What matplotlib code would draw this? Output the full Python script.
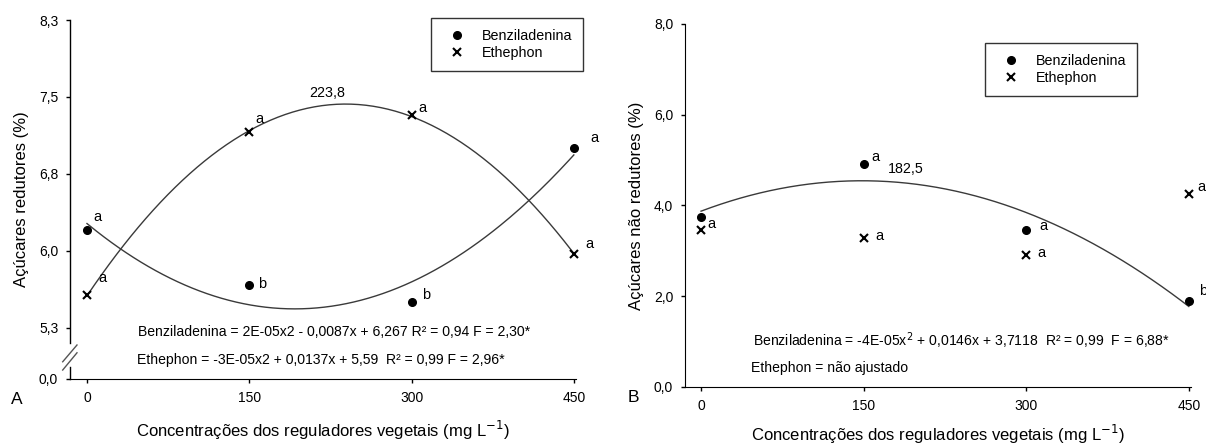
import numpy as np
import matplotlib
matplotlib.use('Agg')
import matplotlib.pyplot as plt
from matplotlib.lines import Line2D

plt.rcParams['font.family'] = ['Liberation Sans', 'DejaVu Sans']

# concentracoes (mg L-1)
conc = [0, 150, 300, 450]

# painel A - acucares redutores (%)
a_benz = [6.20, 5.67, 5.50, 7.00]
a_eth = [5.565, 7.16, 7.32, 5.97]
a_benz_letters = ['a', 'b', 'b', 'a']
a_eth_letters = ['a', 'a', 'a', 'a']
a_yticks = [4.75, 5.25, 6.0, 6.75, 7.5, 8.25]
a_yticklabels = ['0,0', '5,3', '6,0', '6,8', '7,5', '8,3']
a_vertex = '223,8'
a_eq_benz = 'Benziladenina = 2E-05x2 - 0,0087x + 6,267 R² = 0,94 F = 2,30*'
a_eq_eth = 'Ethephon = -3E-05x2 + 0,0137x + 5,59  R² = 0,99 F = 2,96*'

# painel B - acucares nao redutores (%)
b_benz = [3.75, 4.92, 3.47, 1.90]
b_eth = [3.46, 3.28, 2.90, 4.25]
b_benz_letters = ['', 'a', 'a', 'b']
b_eth_letters = ['a', 'a', 'a', 'a']
b_yticks = [0, 2, 4, 6, 8]
b_yticklabels = ['0,0', '2,0', '4,0', '6,0', '8,0']
b_vertex = '182,5'
b_eq_benz = 'Benziladenina = -4E-05x$^{2}$ + 0,0146x + 3,7118  R² = 0,99  F = 6,88*'
b_eq_eth = 'Ethephon = não ajustado'

xlabel = 'Concentrações dos reguladores vegetais (mg L$^{-1}$)'
CURVE = '#3a3a3a'


def fit_curve(x, y):
    c = np.polyfit(x, y, 2)
    xx = np.linspace(min(x), max(x), 200)
    return xx, np.polyval(c, xx)


def style_axes(ax, yticks, yticklabels):
    for s in ['top', 'right']:
        ax.spines[s].set_visible(False)
    ax.set_xticks(conc)
    ax.set_xticklabels([str(c) for c in conc], fontsize=10)
    ax.set_yticks(yticks)
    ax.set_yticklabels(yticklabels, fontsize=10)
    ax.tick_params(direction='out', length=3, width=1, pad=5.5)


def add_letters(ax, y, letters, offsets):
    for x, v, l, (dx, dy) in zip(conc, y, letters, offsets):
        if l:
            ax.annotate(l, (x, v), xytext=(dx, dy), textcoords='offset pixels',
                        ha='center', va='center', fontsize=10.5, annotation_clip=False)


def add_legend(ax, anchor):
    handles = [Line2D([], [], ls='none', marker='o', color='k', markersize=5.5),
               Line2D([], [], ls='none', marker='x', color='k', markersize=6, markeredgewidth=1.5)]
    leg = ax.legend(handles, ['Benziladenina', 'Ethephon'], loc='upper left',
                    bbox_to_anchor=anchor, fontsize=10.3, fancybox=False,
                    edgecolor='k', borderpad=0.75, labelspacing=0.25,
                    handlelength=2.1, handletextpad=0.7, borderaxespad=0)
    leg.get_frame().set_linewidth(1.0)


fig = plt.figure(figsize=(12.06, 4.47), dpi=100)

# ---------- A ----------
axA = fig.add_axes([70/1206, 1-379/447, 506/1206, 359/447])
axA.set_xlim(-15.7, 452)
axA.set_ylim(4.75, 8.25)
style_axes(axA, a_yticks, a_yticklabels)

xx, yy = fit_curve(conc, a_benz)
axA.plot(xx, yy, color=CURVE, lw=1)
xx, yy = fit_curve(conc, a_eth)
axA.plot(xx, yy, color=CURVE, lw=1)
axA.plot(conc, a_benz, ls='none', marker='o', color='k', markersize=5.5, clip_on=False)
axA.plot(conc, a_eth, ls='none', marker='x', color='k', markersize=6, markeredgewidth=1.5, clip_on=False)
add_letters(axA, a_benz, a_benz_letters, [(10, 13), (13, 1), (15, 7), (21, 10)])
add_letters(axA, a_eth, a_eth_letters, [(15, 17), (10, 13), (11, 7), (16, 10)])
axA.text(222, 7.54, a_vertex, ha='center', va='center', fontsize=10.3)
axA.text(0.135, 0.131, a_eq_benz, transform=axA.transAxes, fontsize=10.1, va='center')
axA.text(0.133, 0.052, a_eq_eth, transform=axA.transAxes, fontsize=10.1, va='center')

# broken y axis
axA.spines['left'].set_visible(False)
axA.plot([0, 0], [0.1003, 1], transform=axA.transAxes, color='k', lw=1, clip_on=False)
axA.plot([0, 0], [0, 0.0334], transform=axA.transAxes, color='k', lw=1, clip_on=False)
for y0, y1 in [(0.048, 0.0947), (0.025, 0.073)]:
    axA.plot([-0.0144, 0.0138], [y0, y1], transform=axA.transAxes, color='#555555', lw=1, clip_on=False)

add_legend(axA, (0.713, 1.006))
axA.set_ylabel('Açúcares redutores (%)', fontsize=12, labelpad=7.5)
axA.set_xlabel(xlabel, fontsize=12, labelpad=10)
fig.text(17/1206, 1-399/447, 'A', fontsize=12.5, ha='center', va='center')

# ---------- B ----------
axB = fig.add_axes([685/1206, 1-387/447, 506/1206, 363/447])
axB.set_xlim(-14.8, 452)
axB.set_ylim(0, 8)
style_axes(axB, b_yticks, b_yticklabels)

xx, yy = fit_curve(conc, b_benz)
axB.plot(xx, yy, color=CURVE, lw=1)
axB.plot(conc, b_benz, ls='none', marker='o', color='k', markersize=5.5, clip_on=False)
axB.plot(conc, b_eth, ls='none', marker='x', color='k', markersize=6, markeredgewidth=1.5, clip_on=False)
add_letters(axB, b_benz, b_benz_letters, [(0, 0), (12, 7), (17, 4), (14, 10)])
add_letters(axB, b_eth, b_eth_letters, [(10, 6), (16, 2), (15, 2), (13, 7)])
axB.text(188.8, 4.80, b_vertex, ha='center', va='center', fontsize=10.3)
axB.text(0.135, 0.128, b_eq_benz, transform=axB.transAxes, fontsize=10.1, va='center')
axB.text(0.131, 0.052, b_eq_eth, transform=axB.transAxes, fontsize=10.1, va='center')

add_legend(axB, (0.593, 0.948))
axB.set_ylabel('Açúcares não redutores (%)', fontsize=12, labelpad=7)
axB.set_xlabel(xlabel, fontsize=12, labelpad=7.5)
fig.text(633/1206, 1-398/447, 'B', fontsize=12.5, ha='center', va='center')

fig.savefig('out.png', dpi=100)
